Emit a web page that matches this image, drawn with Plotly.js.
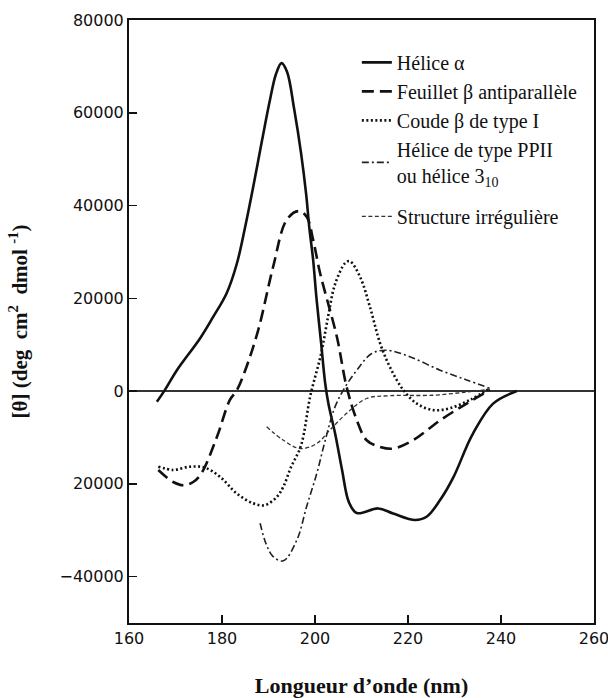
<!DOCTYPE html>
<html>
<head>
<meta charset="utf-8">
<script src="https://cdn.plot.ly/plotly-3.0.1.min.js"></script>
<style>html,body{margin:0;padding:0;background:#fff;}</style>
</head>
<body>
<div id="chart" style="width:608px;height:698px;"></div>
<script>
// Wavelength (nm) and ellipticity [θ] (deg cm² dmol⁻¹)
const helixX = [166.0,167.7,170.3,175.3,178.1,181.0,183.2,185.0,186.8,188.6,190.3,191.6,192.8,194.0,195.5,197.0,198.1,198.8,199.6,200.3,201.3,202.2,202.9,204.4,205.8,207.3,209.0,213.6,216.8,221.5,224.0,226.9,229.8,232.6,234.0,238.3,243.4];
const helixY = [-2300,200,4500,11400,16000,21100,27500,35500,44500,54000,62700,68300,70700,68800,60900,51300,42400,35000,28300,20200,10500,1600,-2800,-9500,-16900,-24000,-26300,-25300,-26400,-27800,-27100,-23500,-18500,-12000,-9100,-2700,0];

const sheetX = [166.3,169.5,171.7,173.8,175.6,178.9,181.7,183.2,185.0,187.8,191.0,193.9,196.4,198.2,199.6,201.1,204.7,206.8,209.0,211.1,213.9,216.8,221.1,226.9,232.6,237.6];
const sheetY = [-17000,-19600,-20300,-19600,-17700,-9900,-1900,200,4500,13200,26800,36900,38800,37600,32600,25400,11700,900,-6300,-10600,-12000,-12400,-10600,-6300,-2700,200];

const turnX = [166.3,169.5,173.1,176.3,179.6,183.2,186.7,189.2,191.8,193.2,194.8,197.0,199.0,201.3,202.9,204.3,206.5,207.5,209.7,211.8,214.0,216.1,219.0,221.9,225.4,229.0,233.3,237.6];
const turnY = [-16300,-17000,-16300,-16500,-18500,-22100,-24200,-24600,-22800,-20600,-16500,-11700,-1000,8000,16500,23000,27600,28000,24600,18200,10300,5200,200,-2700,-4100,-3700,-1900,600];

const ppiiX = [188.2,189.5,191.0,193.2,196.1,198.2,200.4,202.2,204.3,206.5,209.0,212.2,215.4,220.4,226.9,232.6,237.6];
const ppiiY = [-28500,-33000,-35700,-36600,-32100,-24900,-17700,-10600,-3400,900,4500,8100,8800,7400,4500,2400,600];

const coilX = [189.6,193.2,196.8,200.4,203.2,206.8,211.1,216.1,225.4,232.6,237.6];
const coilY = [-7700,-10600,-12400,-11300,-8400,-4800,-1600,-1000,-900,-200,400];

const seriesNames = ['Hélice α','Feuillet β antiparallèle','Coude β de type I','Hélice de type PPII<br>ou hélice 3<sub>10</sub>','Structure irrégulière'];
const xTicks = [160,180,200,220,240,260];
const yTicks = [-40000,-20000,0,20000,40000,60000,80000];
const yTickText = ['\u221240000','20000','0','20000','40000','60000','80000'];

const mk = (x,y,name,line,grp) => ({x:x,y:y,name:name,type:'scatter',mode:'lines',
  line:Object.assign({shape:'spline',smoothing:1},line),legendgroup:grp,hoverinfo:'skip'});

const data = [
  mk(helixX,helixY,seriesNames[0],{color:'#111',width:2.6,dash:'solid'},'g1'),
  mk(sheetX,sheetY,seriesNames[1],{color:'#111',width:2.6,dash:'12px,6px'},'g1'),
  mk(turnX,turnY,seriesNames[2],{color:'#111',width:2.6,dash:'2px,2.5px'},'g1'),
  mk(ppiiX,ppiiY,seriesNames[3],{color:'#222',width:1.6,dash:'7px,3px,2px,3px'},'g1'),
  mk(coilX,coilY,seriesNames[4],{color:'#333',width:1.3,dash:'4px,2.5px'},'g2')
];

const tickFont = {family:'DejaVu Sans, Arial, sans-serif',size:16,color:'#111'};

const layout = {
  width:608,height:698,
  margin:{l:129,r:14,t:20,b:75},
  paper_bgcolor:'#fff',plot_bgcolor:'#fff',
  showlegend:true,
  legend:{x:0.49,y:0.962,xanchor:'left',yanchor:'top',bgcolor:'rgba(0,0,0,0)',
    font:{family:'Liberation Serif, Times New Roman, serif',size:20,color:'#111'},
    traceorder:'grouped',tracegroupgap:12},
  xaxis:{range:[160,260],tickvals:xTicks,ticks:'inside',ticklen:8,tickwidth:1.5,tickcolor:'#111',
    showline:true,linewidth:2,linecolor:'#111',mirror:true,showgrid:false,zeroline:false,
    tickfont:tickFont,ticklabeloverflow:'allow',
    title:{text:'Longueur d\u2019onde (nm)',font:{family:'Liberation Serif, Times New Roman, serif',size:22,color:'#111',weight:'bold'},standoff:32}},
  yaxis:{range:[-50000,80000],tickvals:yTicks,ticktext:yTickText,ticks:'inside',ticklen:8,tickwidth:1.5,tickcolor:'#111',
    showline:true,linewidth:2,linecolor:'#111',mirror:true,showgrid:false,
    zeroline:true,zerolinecolor:'#333',zerolinewidth:1.6,
    tickfont:tickFont,ticklabeloverflow:'allow',
    title:{text:'[θ] (deg  cm<sup>2</sup>  dmol <sup>-1</sup>)',font:{family:'Liberation Serif, Times New Roman, serif',size:21,color:'#111',weight:'bold'},standoff:26}}
};

Plotly.newPlot('chart',data,layout,{displayModeBar:false,staticPlot:true});
</script>
</body>
</html>
